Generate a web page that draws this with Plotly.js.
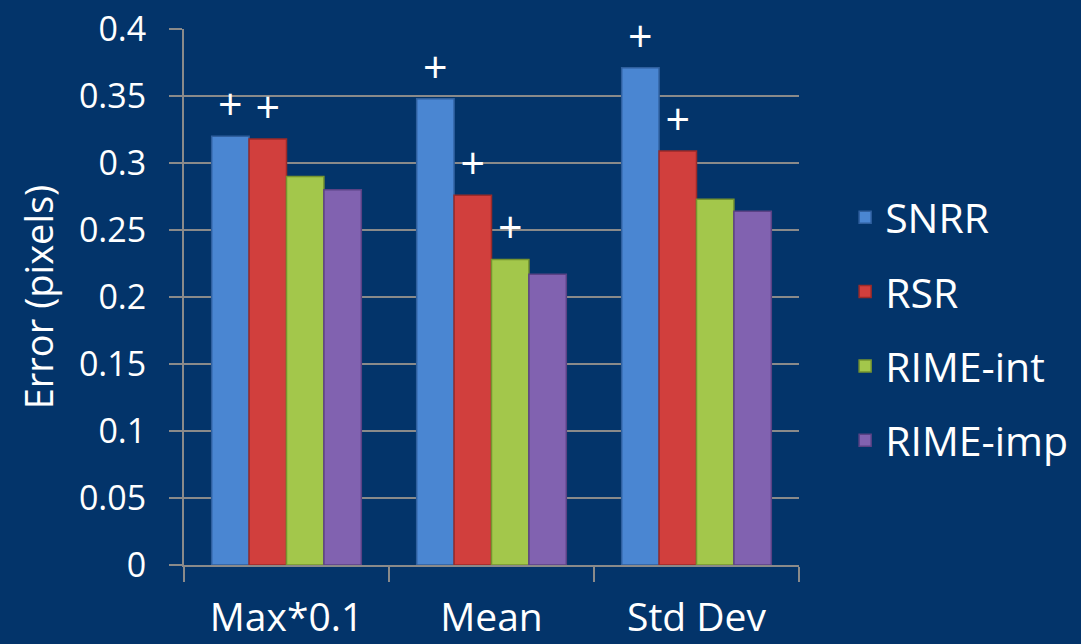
<!DOCTYPE html>
<html>
<head>
<meta charset="utf-8">
<script src="https://cdn.plot.ly/plotly-3.0.1.min.js"></script>
<style>html,body{margin:0;padding:0;background:#03346a;}#chart{width:1081px;height:644px;}</style>
</head>
<body>
<div id="chart"></div>
<script>
const categories = ["Max*0.1", "Mean", "Std Dev"];
const seriesNames = ["SNRR", "RSR", "RIME-int", "RIME-imp"];
const snrr = [0.320, 0.348, 0.371];
const rsr = [0.318, 0.276, 0.309];
const rimeInt = [0.290, 0.228, 0.273];
const rimeImp = [0.280, 0.217, 0.264];
const snrrMarks = ["+", "+", "+"];
const rsrMarks = ["+", "+", "+"];
const rimeIntMarks = ["", "+", ""];
const rimeImpMarks = ["", "", ""];
const yTicks = [0, 0.05, 0.1, 0.15, 0.2, 0.25, 0.3, 0.35, 0.4];
const yTickText = ["0", "0.05", "0.1", "0.15", "0.2", "0.25", "0.3", "0.35", "0.4"];

const values = [snrr, rsr, rimeInt, rimeImp];
const marks = [snrrMarks, rsrMarks, rimeIntMarks, rimeImpMarks];
const fills = ["#4a86d2", "#d13f3d", "#a3c74b", "#8162b0"];
const edges = ["#2f5f9e", "#9c2a28", "#76942f", "#5b4285"];

const FONT = "Open Sans, Lato, sans-serif";

const traces = seriesNames.map((name, i) => ({
  type: "bar",
  name: name,
  x: categories,
  y: values[i],
  text: marks[i],
  textposition: "outside",
  textfont: {color: "#ffffff", size: 43, family: FONT},
  cliponaxis: false,
  hoverinfo: "skip",
  legendgroup: name,
  marker: {color: fills[i], line: {color: edges[i], width: 1.5}}
}));

const layout = {
  width: 1081,
  height: 644,
  paper_bgcolor: "#03346a",
  plot_bgcolor: "#03346a",
  margin: {l: 184, r: 282, t: 29, b: 79, pad: 0, autoexpand: false},
  barmode: "group",
  bargap: 0.27,
  bargroupgap: 0,
  font: {family: FONT, color: "#ffffff"},
  showlegend: true,
  legend: {
    x: 1.075, xanchor: "left", y: 0.44, yanchor: "middle",
    font: {size: 41, color: "#ffffff", family: FONT},
    traceorder: "grouped",
    tracegroupgap: 18,
    itemwidth: 30,
    bgcolor: "rgba(0,0,0,0)"
  },
  xaxis: {
    type: "category",
    showline: true, linecolor: "#8a8a8a", linewidth: 2,
    ticks: "outside", ticklen: 15, tickcolor: "#8a8a8a", tickwidth: 2,
    tickson: "boundaries",
    showgrid: false,
    tickfont: {size: 39, color: "#ffffff", family: FONT},
    ticklabelstandoff: 17,
    fixedrange: true
  },
  yaxis: {
    range: [0, 0.4],
    tickvals: yTicks,
    ticktext: yTickText,
    showline: true, linecolor: "#8a8a8a", linewidth: 2,
    ticks: "outside", ticklen: 13, tickcolor: "#8a8a8a", tickwidth: 2,
    showgrid: true, gridcolor: "#8a8a8a", gridwidth: 2,
    zeroline: false,
    tickfont: {size: 34, color: "#ffffff", family: FONT},
    ticklabelstandoff: 16,
    title: {text: "Error (pixels)", font: {size: 38, color: "#ffffff", family: FONT}, standoff: 14},
    fixedrange: true
  }
};

Plotly.newPlot("chart", traces, layout, {displayModeBar: false, staticPlot: true});
</script>
</body>
</html>
